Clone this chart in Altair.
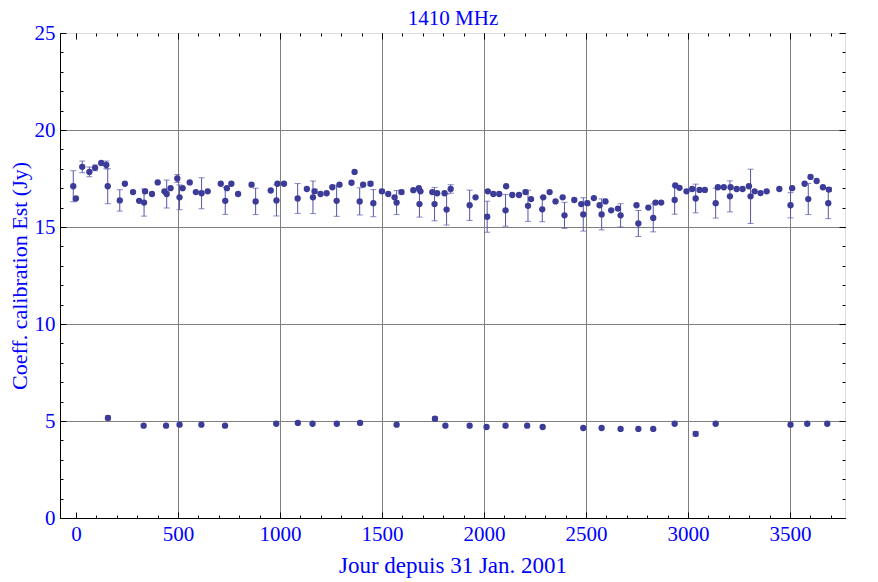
import altair as alt
import pandas as pd

# --- data (day since 31 Jan 2001, flux in Jy, error half-width; 0 = no bar)
upper_day = [-13, 0, 31, 66, 94, 124, 149, 156, 215, 240, 280, 310, 334, 339, 373, 401, 434, 445, 464, 497,
             508, 523, 558, 588, 616, 646, 710, 732, 740, 762, 795, 861, 881, 955, 983, 988, 1020, 1087, 1132, 1162,
             1170, 1199, 1229, 1257, 1278, 1292, 1351, 1366, 1391, 1408, 1444, 1458, 1500, 1531, 1562, 1572, 1596, 1654, 1681, 1684,
             1689, 1747, 1758, 1771, 1807, 1817, 1837, 1930, 1959, 2016, 2019, 2046, 2075, 2109, 2106, 2139, 2172, 2204, 2216, 2231,
             2286, 2291, 2322, 2351, 2386, 2395, 2443, 2477, 2487, 2507, 2539, 2567, 2577, 2596, 2624, 2657, 2670, 2748, 2757, 2806,
             2830, 2841, 2869, 2935, 2938, 2959, 2993, 3021, 3038, 3057, 3083, 3136, 3147, 3176, 3206, 3209, 3239, 3268, 3299, 3307,
             3327, 3356, 3386, 3448, 3503, 3511, 3572, 3590, 3601, 3631, 3662, 3691, 3688]
upper_flux = [17.1, 16.47, 18.1, 17.84, 18.05, 18.3, 18.2, 17.1, 16.37, 17.23, 16.8, 16.35, 16.26, 16.84, 16.7, 17.3, 16.84, 16.7, 17.0, 17.5,
              16.53, 17.0, 17.3, 16.8, 16.74, 16.84, 17.23, 16.35, 17.0, 17.23, 16.7, 17.18, 16.32, 16.88, 16.37, 17.23, 17.23, 16.47, 16.96, 16.53,
              16.84, 16.7, 16.74, 17.05, 16.35, 17.18, 17.28, 17.84, 16.32, 17.18, 17.23, 16.23, 16.84, 16.7, 16.53, 16.26, 16.8, 16.9, 17.0, 16.18,
              16.84, 16.8, 16.18, 16.74, 16.74, 15.9, 16.96, 16.12, 16.53, 15.53, 16.84, 16.7, 16.7, 17.1, 15.86, 16.65, 16.65, 16.8, 16.09, 16.44,
              15.91, 16.53, 16.8, 16.32, 16.53, 15.6, 16.39, 16.18, 15.65, 16.23, 16.49, 16.12, 15.65, 16.32, 15.86, 15.95, 15.6, 16.12, 15.18, 16.0,
              15.47, 16.26, 16.26, 16.39, 17.14, 17.02, 16.84, 16.96, 16.47, 16.91, 16.91, 16.23, 17.05, 17.05, 16.58, 17.05, 16.96, 16.96, 17.1, 16.58,
              16.84, 16.75, 16.84, 16.96, 16.12, 17.0, 17.23, 16.44, 17.58, 17.37, 17.05, 16.93, 16.23]
upper_err = [0.8, 0, 0.3, 0.25, 0.15, 0, 0.2, 0.9, 0.55, 0, 0, 0, 0.7, 0.1, 0, 0, 0, 0.72, 0, 0.2,
             0.64, 0, 0, 0, 0.8, 0, 0, 0.7, 0, 0, 0, 0, 0.68, 0, 0.8, 0, 0, 0.77, 0, 0.84,
             0.1, 0, 0, 0, 0.8, 0, 0, 0, 0.7, 0, 0.1, 0.7, 0.1, 0, 0, 0.62, 0.1, 0, 0, 0.67,
             0, 0, 0.86, 0, 0, 0.8, 0.22, 0.78, 0, 0.8, 0, 0, 0, 0, 0.82, 0, 0, 0.1, 0.8, 0,
             0.64, 0, 0, 0, 0, 0.67, 0, 0, 0.86, 0.1, 0, 0, 0.8, 0, 0, 0, 0.6, 0, 0.67, 0,
             0.72, 0, 0, 0.73, 0, 0, 0, 0, 0.74, 0, 0, 0.77, 0, 0, 0.8, 0, 0, 0, 0, 1.4,
             0, 0, 0, 0, 0.65, 0, 0, 0.8, 0, 0, 0, 0.1, 0.8]

lower_day = [157, 332, 442, 508, 615, 731, 982, 1088, 1160, 1279, 1393, 1572, 1760, 1811, 1930, 2013, 2106, 2212, 2288, 2487,
             2577, 2670, 2757, 2830, 2935, 3038, 3136, 3503, 3585, 3683]
lower_flux = [5.16, 4.76, 4.76, 4.81, 4.81, 4.76, 4.86, 4.9, 4.86, 4.86, 4.9, 4.81, 5.12, 4.76, 4.76, 4.69, 4.76, 4.76, 4.69, 4.64,
              4.64, 4.59, 4.59, 4.59, 4.86, 4.34, 4.86, 4.81, 4.86, 4.86]
lower_err = [0.1, 0, 0, 0, 0, 0, 0, 0, 0, 0, 0, 0, 0.1, 0, 0, 0, 0, 0, 0, 0,
             0, 0, 0, 0, 0, 0.12, 0, 0, 0, 0]

x_major = [0, 500, 1000, 1500, 2000, 2500, 3000, 3500]
x_grid = [500, 1000, 1500, 2000, 2500, 3000, 3500]
x_minor = list(range(0, 3800, 100))
y_major = [0, 5, 10, 15, 20, 25]
y_grid = [5, 10, 15, 20]
y_minor = list(range(0, 26))

title_text = "1410 MHz"

df = pd.DataFrame({
    "day": upper_day + lower_day,
    "flux": upper_flux + lower_flux,
    "err": upper_err + lower_err,
})

FONT = "Liberation Serif"
BLUE = "#0000ff"
PT = "#3c3c98"
BAR = "#5454aa"

xscale = alt.Scale(domain=[-78, 3770], nice=False, zero=False)
yscale = alt.Scale(domain=[0, 25], nice=False, zero=False)

base = alt.Chart(df)

bars_src = base.transform_filter("datum.err > 0").transform_calculate(
    lo="datum.flux - datum.err", hi="datum.flux + datum.err")

rules = bars_src.mark_rule(color=BAR, strokeWidth=1).encode(
    x=alt.X("day:Q", scale=xscale, axis=None),
    y=alt.Y("lo:Q", scale=yscale, axis=None),
    y2="hi:Q",
)
cap_lo = bars_src.mark_tick(orient="horizontal", size=6, thickness=1, color=BAR).encode(
    x=alt.X("day:Q", scale=xscale, axis=None),
    y=alt.Y("lo:Q", scale=yscale, axis=None),
)
cap_hi = bars_src.mark_tick(orient="horizontal", size=6, thickness=1, color=BAR).encode(
    x=alt.X("day:Q", scale=xscale, axis=None),
    y=alt.Y("hi:Q", scale=yscale, axis=None),
)

points = base.mark_circle(size=40, color=PT, opacity=1).encode(
    x=alt.X("day:Q", scale=xscale, axis=alt.Axis(
        orient="bottom", values=x_major, format="d", grid=False, ticks=False, tickSize=0,
        labelPadding=5, labelFont=FONT, labelFontSize=21, labelColor=BLUE,
        labelFlush=False, labelOverlap=False,
        title="Jour depuis 31 Jan. 2001", titleFont=FONT, titleFontSize=23,
        titleFontWeight="normal", titleColor=BLUE, titlePadding=10,
        domainColor="black")),
    y=alt.Y("flux:Q", scale=yscale, axis=alt.Axis(
        orient="left", values=y_major, format="d", grid=False, ticks=False, tickSize=0,
        labelPadding=5, labelFont=FONT, labelFontSize=21, labelColor=BLUE,
        labelFlush=False, labelOverlap=False,
        title="Coeff. calibration Est (Jy)", titleFont=FONT, titleFontSize=22,
        titleFontWeight="normal", titleColor=BLUE, titlePadding=3,
        domainColor="black")),
)


def tick_layer(xorient, yorient, xvals, yvals, size, xtitle=None):
    xa = dict(orient=xorient, values=xvals, offset=-size, tickSize=size, labels=False,
              domain=False, grid=False, title=xtitle, tickColor="black", tickWidth=1)
    if xtitle is not None:
        xa.update(titleFont=FONT, titleFontSize=21, titleFontWeight="normal",
                  titleColor=BLUE, titlePadding=4)
    ya = dict(orient=yorient, values=yvals, offset=-size, tickSize=size, labels=False,
              domain=False, grid=False, title=None, tickColor="black", tickWidth=1)
    return base.mark_point(opacity=0).encode(
        x=alt.X("day:Q", scale=xscale, axis=alt.Axis(**xa)),
        y=alt.Y("flux:Q", scale=yscale, axis=alt.Axis(**ya)),
    )


grid_layer = base.mark_point(opacity=0).encode(
    x=alt.X("day:Q", scale=xscale, axis=alt.Axis(
        orient="bottom", values=x_grid, grid=True, gridColor="#808080", gridWidth=1,
        ticks=False, labels=False, domain=False, title=None)),
    y=alt.Y("flux:Q", scale=yscale, axis=alt.Axis(
        orient="left", values=y_grid, grid=True, gridColor="#808080", gridWidth=1,
        ticks=False, labels=False, domain=False, title=None)),
)

chart = alt.layer(
    grid_layer,
    rules, cap_lo, cap_hi, points,
    tick_layer("bottom", "left", x_minor, y_minor, 3),
    tick_layer("bottom", "left", x_major, y_major, 6),
    tick_layer("top", "right", x_minor, y_minor, 3),
    tick_layer("top", "right", x_major, y_major, 6, xtitle=title_text),
).resolve_axis(x="independent", y="independent").properties(
    width=785, height=485,
    autosize=alt.AutoSizeParams(type="none"),
    padding={"left": 52, "top": 25, "right": 15, "bottom": 60},
).configure_view(stroke="black", strokeWidth=1).configure(background="white")

chart.save("out.html", embed_options={"renderer": "svg", "actions": False})
